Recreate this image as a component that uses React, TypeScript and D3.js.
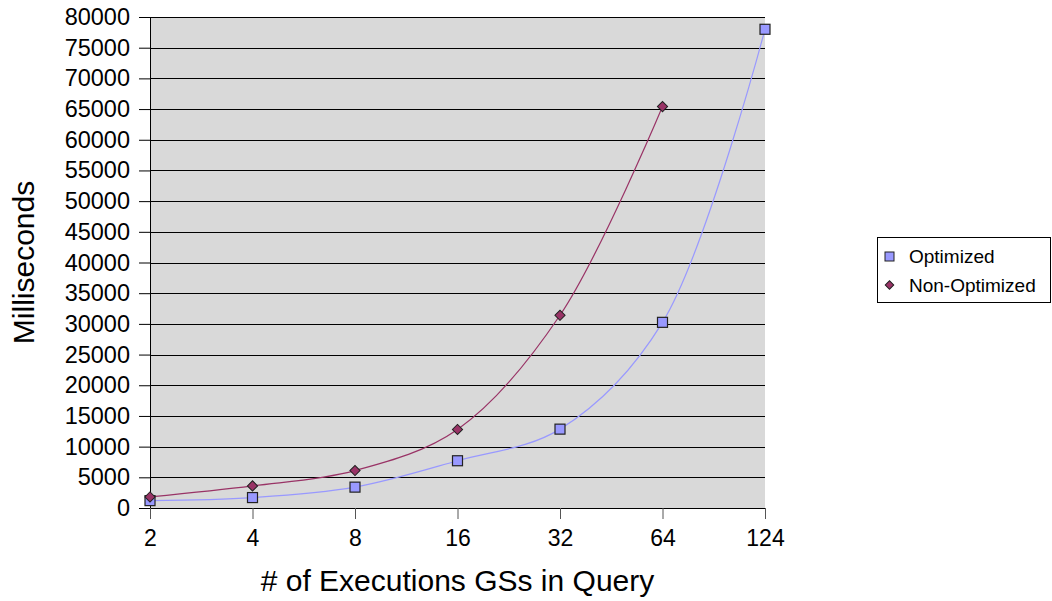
import { useEffect, useRef } from 'react';
import * as d3 from 'd3';

const categories = ['2', '4', '8', '16', '32', '64', '124'];
const optimized = [1200, 1700, 3400, 7700, 12850, 30250, 78000];
const nonOptimized = [1800, 3600, 6100, 12800, 31400, 65400];
const yTicks = d3.range(0, 80001, 5000);
const seriesNames = ['Optimized', 'Non-Optimized'];

export default function App() {
  const ref = useRef<SVGSVGElement>(null);

  useEffect(() => {
    if (!ref.current) return;
    const W = 1052;
    const H = 601;
    const margin = { top: 17, left: 150, right: 287, bottom: 93 };
    const width = W - margin.left - margin.right;
    const height = H - margin.top - margin.bottom;
    const font = 'Liberation Sans, Arial, sans-serif';

    const svg = d3.select(ref.current);
    svg.selectAll('*').remove();
    svg.attr('width', W).attr('height', H).attr('viewBox', `0 0 ${W} ${H}`);

    const x = d3.scalePoint<string>().domain(categories).range([0, width]).padding(0);
    const y = d3.scaleLinear().domain([0, 80000]).range([height, 0]);

    const g = svg.append('g').attr('transform', `translate(${margin.left},${margin.top})`);

    // plot background
    g.append('rect')
      .attr('width', width)
      .attr('height', height)
      .attr('fill', '#d9d9d9');

    // gridlines
    g.append('g')
      .selectAll('line')
      .data(yTicks)
      .join('line')
      .attr('x1', 0)
      .attr('x2', width)
      .attr('y1', d => Math.round(y(d)) + 0.5)
      .attr('y2', d => Math.round(y(d)) + 0.5)
      .attr('stroke', '#000')
      .attr('stroke-width', 1);

    // y axis
    const yAxis = d3.axisLeft(y).tickValues(yTicks).tickSize(11).tickPadding(9).tickFormat(d3.format('d'));
    const ya = g.append('g').call(yAxis as any);
    ya.select('.domain').attr('stroke', '#000');
    ya.selectAll('line').attr('stroke', '#000');
    ya.selectAll('text').attr('font-family', font).attr('font-size', 23.5).attr('fill', '#000');

    // x axis
    const xAxis = d3.axisBottom(x).tickSize(11).tickPadding(11).tickSizeOuter(0);
    const xa = g.append('g').attr('transform', `translate(0,${height})`).call(xAxis as any);
    xa.select('.domain').attr('stroke', '#000');
    xa.selectAll('line').attr('stroke', '#555');
    xa.selectAll('text').attr('font-family', font).attr('font-size', 23).attr('fill', '#000');

    // lines
    const line = d3.line<number>()
      .x((_, i) => x(categories[i])!)
      .y(d => y(d))
      .curve(d3.curveCatmullRom);

    g.append('path')
      .datum(optimized)
      .attr('d', line)
      .attr('fill', 'none')
      .attr('stroke', '#9999ff')
      .attr('stroke-width', 1.2);

    g.append('path')
      .datum(nonOptimized)
      .attr('d', line)
      .attr('fill', 'none')
      .attr('stroke', '#993366')
      .attr('stroke-width', 1.2);

    const sq = 10;
    g.append('g')
      .selectAll('rect')
      .data(optimized)
      .join('rect')
      .attr('x', (_, i) => x(categories[i])! - sq / 2)
      .attr('y', d => y(d) - sq / 2)
      .attr('width', sq)
      .attr('height', sq)
      .attr('fill', '#9999ff')
      .attr('stroke', '#222')
      .attr('stroke-width', 1.2);

    const diamond = d3.symbol().type(d3.symbolSquare).size(52);
    g.append('g')
      .selectAll('path')
      .data(nonOptimized)
      .join('path')
      .attr('d', diamond as any)
      .attr('transform', (d, i) => `translate(${x(categories[i])},${y(d)}) rotate(45)`)
      .attr('fill', '#993366')
      .attr('stroke', '#222')
      .attr('stroke-width', 1);

    // axis titles
    svg.append('text')
      .attr('transform', `translate(34,${margin.top + height / 2}) rotate(-90)`)
      .attr('text-anchor', 'middle')
      .attr('font-family', font)
      .attr('font-size', 30)
      .text('Milliseconds');

    svg.append('text')
      .attr('x', margin.left + width / 2)
      .attr('y', 591)
      .attr('text-anchor', 'middle')
      .attr('font-family', font)
      .attr('font-size', 30)
      .text('# of Executions GSs in Query');

    // legend
    const lg = svg.append('g').attr('transform', 'translate(877,237)');
    lg.append('rect')
      .attr('x', 0.5)
      .attr('y', 0.5)
      .attr('width', 173)
      .attr('height', 65)
      .attr('fill', '#fff')
      .attr('stroke', '#000');

    lg.append('rect')
      .attr('x', 8)
      .attr('y', 15)
      .attr('width', 9)
      .attr('height', 9)
      .attr('fill', '#9999ff')
      .attr('stroke', '#222');

    lg.append('path')
      .attr('d', d3.symbol().type(d3.symbolSquare).size(36)() as string)
      .attr('transform', 'translate(12.5,48) rotate(45)')
      .attr('fill', '#993366')
      .attr('stroke', '#222');

    lg.selectAll('text.lbl')
      .data(seriesNames)
      .join('text')
      .attr('class', 'lbl')
      .attr('x', 32)
      .attr('y', (_, i) => 26 + i * 29)
      .attr('font-family', font)
      .attr('font-size', 19)
      .text(d => d);
  }, []);

  return (
    <svg
      ref={ref}
      style={{ position: 'absolute', left: 0, top: 0, display: 'block', background: '#fff' }}
    />
  );
}
